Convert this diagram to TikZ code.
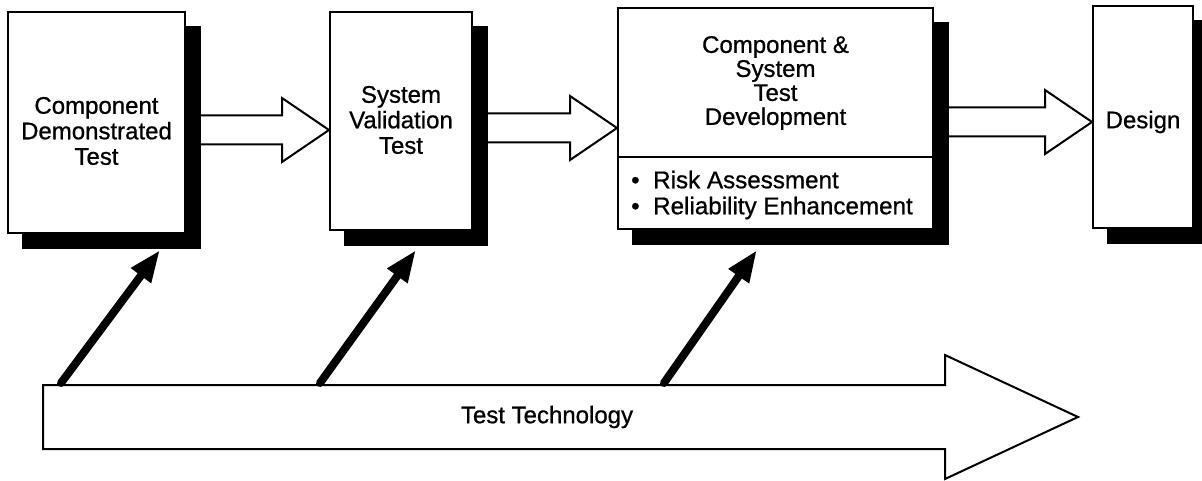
\documentclass[tikz,border=0pt]{standalone}
\usepackage{fontspec}
\setmainfont[FakeBold=0.8]{Liberation Sans}
\usetikzlibrary{arrows.meta,backgrounds,calc}

% hollow block arrow from the shadow edge of one box to the next box
% #1 = source node, #2 = target node, #3 = row of the arrow's axis
\newcommand\blockarrow[3]{%
  \draw[hollow] let \p1=([xshift=15pt]#1.east), \p2=(#2.west) in
    (\x1,{-(#3-14.5)*1pt}) -- ({\x2-47pt},{-(#3-14.5)*1pt})
    -- ({\x2-47pt},{-(#3-32)*1pt}) -- (\x2,{-#3*1pt})
    -- ({\x2-47pt},{-(#3+32)*1pt}) -- ({\x2-47pt},{-(#3+14.5)*1pt})
    -- (\x1,{-(#3+14.5)*1pt});}

\begin{document}
\begin{tikzpicture}[x=1pt,y=-1pt,
  box/.style={draw=black,line width=2pt,fill=white,rectangle,inner sep=0pt},
  boxtext/.style={align=center,inner sep=0pt,font=\fontsize{24}{25.5}\selectfont},
  hollow/.style={draw=black,line width=2pt,fill=white,line join=miter},
  feed/.style={line width=8pt,line cap=round,-{Triangle[length=32pt,width=23pt]}}]

\useasboundingbox (0,0) rectangle (1202,481);

% stage boxes
\node[box,minimum width=177pt,minimum height=221pt] (b1) at (96.5,122.5) {};
\node[box,minimum width=142pt,minimum height=218pt] (b2) at (401,121) {};
\node[box,minimum width=315pt,minimum height=221pt] (b3) at (775.5,118.5) {};
\node[box,minimum width=100pt,minimum height=222pt] (b4) at (1143,117) {};

% solid drop shadows
\begin{scope}[on background layer]
  \foreach \b in {b1,b2,b3,b4}
    \fill[black] ([shift={(15,15)}]\b.north west) rectangle ([shift={(15,15)}]\b.south east);
\end{scope}

% box texts
\node[boxtext] (t1) at (96.5,131) {Component\\Demonstrated\\Test};
\node[boxtext] (t2) at (401,120) {System\\Validation\\Test};
\node[boxtext,font=\fontsize{24}{24}\selectfont] (t3) at (775.5,83) {Component \&\\System\\Test\\Development};
\node[boxtext] (t4) at (1143,122) {Design};

% divider and bullet list of the development box
\coordinate (dv) at (0,157);
\draw[line width=1.5pt] (b3.west |- dv) -- (b3.east |- dv);
\node[boxtext,align=left,anchor=west,font=\fontsize{24.2}{26}\selectfont] (t5) at (631,195)
  {\makebox[22pt][l]{\textbullet}Risk Assessment\\\makebox[22pt][l]{\textbullet}Reliability Enhancement};

% flow arrows between the stages
\blockarrow{b1}{b2}{130}
\blockarrow{b2}{b3}{128}
\blockarrow{b3}{b4}{122}

% test technology band
\draw[hollow] (43,385) -- (945,385) -- (945,355) -- (1078,417) -- (945,479)
  -- (945,449) -- (43,449) -- cycle;
\node[boxtext] (tt) at (547,417) {Test Technology};

% feeds from the band into the stages
\coordinate (s1) at (61,383);  \coordinate (e1) at (160,250);
\coordinate (s2) at (320,383); \coordinate (e2) at (416,250);
\coordinate (s3) at (664,383); \coordinate (e3) at (757,250);
\draw[feed] (s1) -- (e1);
\draw[feed] (s2) -- (e2);
\draw[feed] (s3) -- (e3);

\end{tikzpicture}
\end{document}
